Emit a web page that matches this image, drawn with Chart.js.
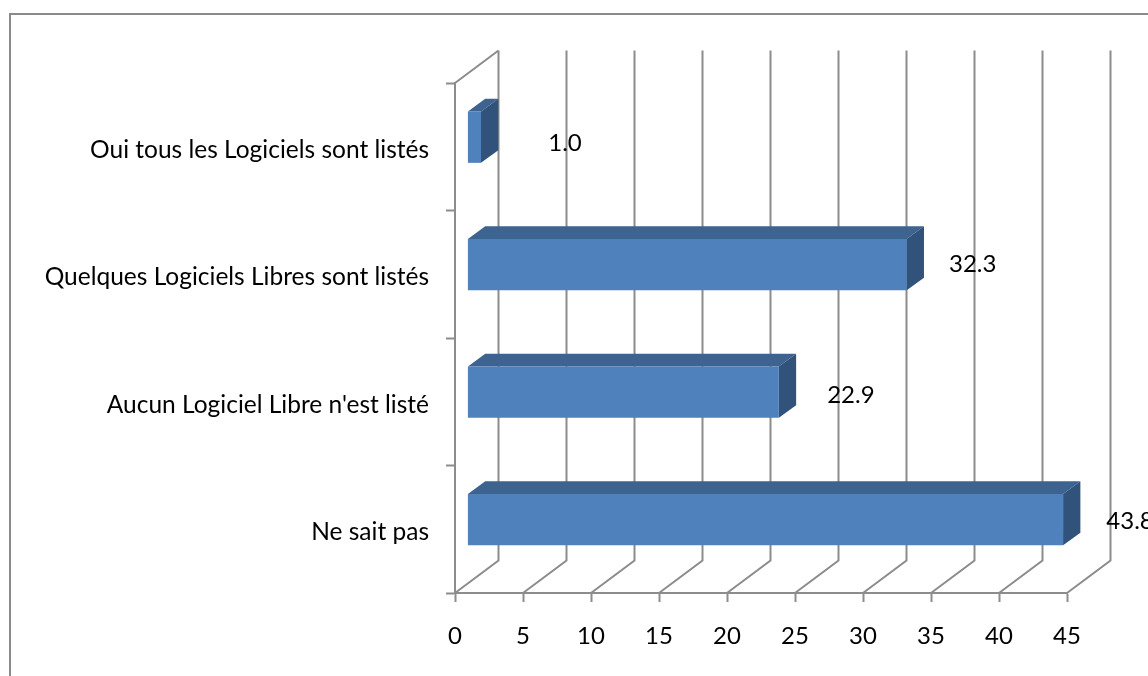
<!DOCTYPE html>
<html>
<head>
<meta charset="utf-8">
<script src="https://cdn.jsdelivr.net/npm/chart.js@4/dist/chart.umd.min.js"></script>
<style>
	html, body { margin: 0; padding: 0; background: #fff; overflow: hidden; }
	canvas { display: block; }
</style>
</head>
<body>
<canvas id="chart" width="1148" height="676"></canvas>
<script>
const categories = ["Oui tous les Logiciels sont listés", "Quelques Logiciels Libres sont listés", "Aucun Logiciel Libre n'est listé", "Ne sait pas"];
const values = [1.0, 32.3, 22.9, 43.8];
const xTicks = [0, 5, 10, 15, 20, 25, 30, 35, 40, 45];

const axisColor = "#8c8c8c";
const fontName = "Lato, 'Open Sans', sans-serif";

// walls of the fake 3D box
const wallDx = 43.5, wallDy = -32.5;
// bars sit a bit inside the box
const barShiftX = 12.4, barShiftY = -9.6;
const barDepthX = 17.3, barDepthY = -12.7;
// excel did not put the labels at a regular distance
const labelNudge = [[84, 6], [66, 0], [72, 3], [67, 2]];

const box3d = {
	id: "box3d",
	beforeDatasetsDraw(chart) {
		const ctx = chart.ctx, x = chart.scales.x, area = chart.chartArea;
		ctx.save();
		// frame of the picture, only left and top are visible
		ctx.strokeStyle = "#8a8a8a";
		ctx.lineWidth = 2;
		ctx.beginPath();
		ctx.moveTo(10, 676);
		ctx.lineTo(10, 14);
		ctx.lineTo(1148, 14);
		ctx.stroke();

		ctx.strokeStyle = axisColor;
		ctx.lineWidth = 2;
		ctx.beginPath();
		xTicks.forEach(function(t) {
			const px = x.getPixelForValue(t);
			ctx.moveTo(px, area.bottom);
			ctx.lineTo(px + wallDx, area.bottom + wallDy);
			ctx.lineTo(px + wallDx, area.top + wallDy);
		});
		ctx.moveTo(area.left, area.top);
		ctx.lineTo(area.left + wallDx, area.top + wallDy);
		ctx.stroke();
		ctx.restore();
	},
	beforeDatasetDraw(chart, args) {
		const ctx = chart.ctx;
		ctx.save();
		ctx.translate(barShiftX, barShiftY);
		args.meta.data.forEach(function(bar) {
			const p = bar.getProps(["x", "y", "base", "height"], true);
			const top = p.y - p.height / 2, bottom = p.y + p.height / 2;
			ctx.fillStyle = "#3d6391";
			ctx.beginPath();
			ctx.moveTo(p.base, top);
			ctx.lineTo(p.base + barDepthX, top + barDepthY);
			ctx.lineTo(p.x + barDepthX, top + barDepthY);
			ctx.lineTo(p.x, top);
			ctx.closePath();
			ctx.fill();
			ctx.fillStyle = "#31527b";
			ctx.beginPath();
			ctx.moveTo(p.x, top);
			ctx.lineTo(p.x + barDepthX, top + barDepthY);
			ctx.lineTo(p.x + barDepthX, bottom + barDepthY);
			ctx.lineTo(p.x, bottom);
			ctx.closePath();
			ctx.fill();
		});
	},
	afterDatasetDraw(chart, args) {
		const ctx = chart.ctx;
		ctx.restore();
		ctx.save();
		ctx.fillStyle = "#000";
		ctx.font = "24px " + fontName;
		ctx.textAlign = "center";
		ctx.textBaseline = "middle";
		args.meta.data.forEach(function(bar, i) {
			const p = bar.getProps(["x", "y"], true);
			ctx.fillText(values[i].toFixed(1), p.x + barShiftX + labelNudge[i][0], p.y + barShiftY + labelNudge[i][1]);
		});
		ctx.restore();
	}
};

new Chart("chart", {
	type: "bar",
	plugins: [box3d],
	data: {
		labels: categories,
		datasets: [{
			data: values,
			backgroundColor: "#4f81bd",
			borderWidth: 0,
			barPercentage: 0.403,
			categoryPercentage: 1,
			clip: false
		}]
	},
	options: {
		indexAxis: "y",
		responsive: false,
		animation: false,
		layout: {
			autoPadding: false,
			padding: { left: 0, top: 83, right: 81, bottom: 0 }
		},
		plugins: {
			legend: { display: false },
			title: { display: false },
			tooltip: { enabled: false }
		},
		scales: {
			x: {
				min: 0,
				max: 45,
				afterFit: function(scale) { scale.height = 83; },
				afterBuildTicks: function(scale) { scale.ticks = xTicks.map(function(v) { return { value: v }; }); },
				grid: { drawOnChartArea: false, tickLength: 9, tickColor: axisColor, tickWidth: 2 },
				border: { color: axisColor, width: 2 },
				ticks: { color: "#000", font: { family: fontName, size: 24 }, padding: 20, maxRotation: 0 }
			},
			y: {
				afterFit: function(scale) { scale.width = 455; },
				grid: { drawOnChartArea: false, tickLength: 9, tickColor: axisColor, tickWidth: 2 },
				border: { color: axisColor, width: 2 },
				ticks: { color: "#000", font: { family: fontName, size: 24.5 }, padding: 17, autoSkip: false, labelOffset: 3 }
			}
		}
	}
});
</script>
</body>
</html>
